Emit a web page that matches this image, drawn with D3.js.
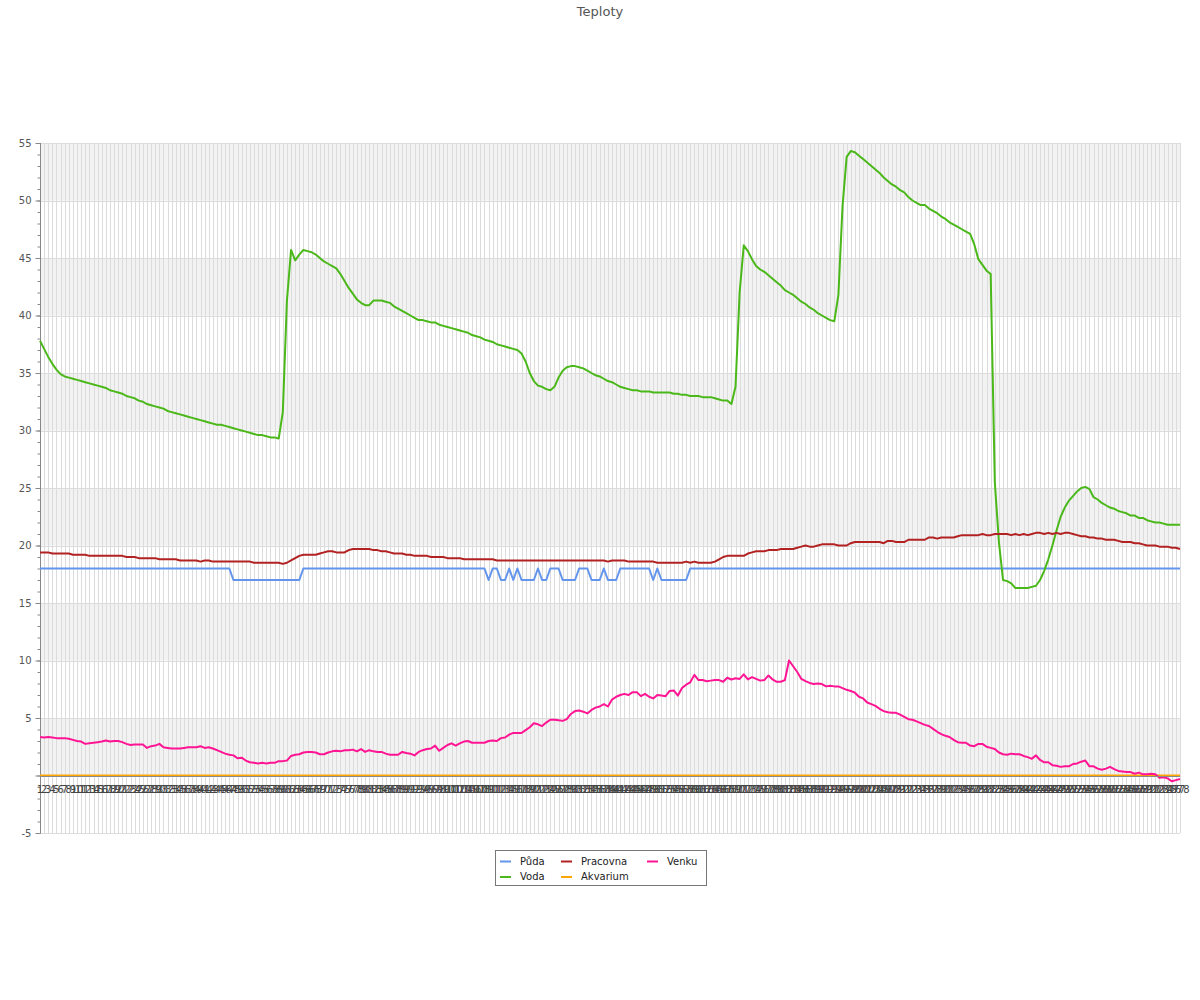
<!DOCTYPE html>
<html><head><meta charset="utf-8">
<script src="https://cdn.jsdelivr.net/npm/d3@7"></script>
<style>body{margin:0;background:#fff}svg{display:block;font-family:"DejaVu Sans",sans-serif}</style>
</head><body><svg id="c" width="1200" height="1000"></svg>
<script>
const title = "Teploty";
const categories = [
1,2,3,4,5,6,7,8,9,10,11,12,13,14,15,16,17,18,19,20,
21,22,23,24,25,26,27,28,29,30,31,32,33,34,35,36,37,38,39,40,
41,42,43,44,45,46,47,48,49,50,51,52,53,54,55,56,57,58,59,60,
61,62,63,64,65,66,67,68,69,70,71,72,73,74,75,76,77,78,79,80,
81,82,83,84,85,86,87,88,89,90,91,92,93,94,95,96,97,98,99,100,
101,102,103,104,105,106,107,108,109,110,111,112,113,114,115,116,117,118,119,120,
121,122,123,124,125,126,127,128,129,130,131,132,133,134,135,136,137,138,139,140,
141,142,143,144,145,146,147,148,149,150,151,152,153,154,155,156,157,158,159,160,
161,162,163,164,165,166,167,168,169,170,171,172,173,174,175,176,177,178,179,180,
181,182,183,184,185,186,187,188,189,190,191,192,193,194,195,196,197,198,199,200,
201,202,203,204,205,206,207,208,209,210,211,212,213,214,215,216,217,218,219,220,
221,222,223,224,225,226,227,228,229,230,231,232,233,234,235,236,237,238,239,240,
241,242,243,244,245,246,247,248,249,250,251,252,253,254,255,256,257,258,259,260,
261,262,263,264,265,266,267,268,269,270,271,272,273,274,275,276,277,278];

const seriesNames = ["Půda","Voda","Pracovna","Akvarium","Venku"];
const seriesColors = ["#6495ed","#4bb81a","#b22222","#ffa500","#ff1493"];

const puda = [
18,18,18,18,18,18,18,18,18,18, 18,18,18,18,18,18,18,18,18,18,
18,18,18,18,18,18,18,18,18,18, 18,18,18,18,18,18,18,18,18,18,
18,18,18,18,18,18,18,17,17,17, 17,17,17,17,17,17,17,17,17,17,
17,17,17,17,18,18,18,18,18,18, 18,18,18,18,18,18,18,18,18,18,
18,18,18,18,18,18,18,18,18,18, 18,18,18,18,18,18,18,18,18,18,
18,18,18,18,18,18,18,18,18,17, 18,18,17,17,18,17,18,17,17,17,
17,18,17,17,18,18,18,17,17,17, 17,18,18,18,17,17,17,18,17,17,
17,18,18,18,18,18,18,18,18,17, 18,17,17,17,17,17,17,17,18,18,
18,18,18,18,18,18,18,18,18,18, 18,18,18,18,18,18,18,18,18,18,
18,18,18,18,18,18,18,18,18,18, 18,18,18,18,18,18,18,18,18,18,
18,18,18,18,18,18,18,18,18,18, 18,18,18,18,18,18,18,18,18,18,
18,18,18,18,18,18,18,18,18,18, 18,18,18,18,18,18,18,18,18,18,
18,18,18,18,18,18,18,18,18,18, 18,18,18,18,18,18,18,18,18,18,
18,18,18,18,18,18,18,18,18,18, 18,18,18,18,18,18,18,18];

const voda = [
37.8,37.1,36.4,35.8,35.3,34.9,34.7,34.6,34.5,34.4,
34.3,34.2,34.1,34.0,33.9,33.8,33.7,33.5,33.4,33.3,
33.2,33.0,32.9,32.8,32.6,32.5,32.3,32.2,32.1,32.0,
31.9,31.7,31.6,31.5,31.4,31.3,31.2,31.1,31.0,30.9,
30.8,30.7,30.6,30.5,30.5,30.4,30.3,30.2,30.1,30.0,
29.9,29.8,29.7,29.6,29.6,29.5,29.4,29.4,29.3,31.6,
41.3,45.7,44.8,45.3,45.7,45.6,45.5,45.3,45.0,44.7,
44.5,44.3,44.1,43.6,43.0,42.4,41.9,41.4,41.1,40.9,
40.9,41.3,41.3,41.3,41.2,41.1,40.8,40.6,40.4,40.2,
40.0,39.8,39.6,39.6,39.5,39.4,39.4,39.2,39.1,39.0,
38.9,38.8,38.7,38.6,38.5,38.3,38.2,38.1,37.9,37.8,
37.7,37.5,37.4,37.3,37.2,37.1,37.0,36.7,36.0,35.0,
34.3,33.9,33.8,33.6,33.5,33.8,34.6,35.2,35.5,35.6,
35.6,35.5,35.4,35.2,35.0,34.8,34.7,34.5,34.3,34.2,
34.0,33.8,33.7,33.6,33.5,33.5,33.4,33.4,33.4,33.3,
33.3,33.3,33.3,33.3,33.2,33.2,33.1,33.1,33.0,33.0,
33.0,32.9,32.9,32.9,32.8,32.7,32.6,32.6,32.3,33.8,
42.0,46.1,45.6,44.9,44.3,44.0,43.8,43.5,43.2,42.9,
42.6,42.2,42.0,41.8,41.5,41.2,41.0,40.7,40.5,40.2,
40.0,39.8,39.6,39.5,41.8,49.5,53.8,54.3,54.2,53.9,
53.6,53.3,53.0,52.7,52.4,52.0,51.7,51.4,51.2,50.9,
50.7,50.3,50.0,49.8,49.6,49.6,49.3,49.1,48.9,48.6,
48.4,48.1,47.9,47.7,47.5,47.3,47.1,46.2,44.9,44.4,
43.9,43.6,25.5,20.3,17.0,16.9,16.7,16.3,16.3,16.3,
16.3,16.4,16.5,17.0,17.8,18.8,20.0,21.3,22.5,23.3,
23.9,24.3,24.7,25.0,25.1,24.9,24.2,24.0,23.7,23.5,
23.3,23.2,23.0,22.9,22.8,22.6,22.6,22.4,22.4,22.2,
22.1,22.0,22.0,21.9,21.8,21.8,21.8,21.8];

const pracovna = [
19.4,19.4,19.4,19.3,19.3,19.3,19.3,19.3,19.2,19.2,
19.2,19.2,19.1,19.1,19.1,19.1,19.1,19.1,19.1,19.1,
19.1,19.0,19.0,19.0,18.9,18.9,18.9,18.9,18.9,18.8,
18.8,18.8,18.8,18.8,18.7,18.7,18.7,18.7,18.7,18.6,
18.7,18.7,18.6,18.6,18.6,18.6,18.6,18.6,18.6,18.6,
18.6,18.6,18.5,18.5,18.5,18.5,18.5,18.5,18.5,18.4,
18.5,18.7,18.9,19.1,19.2,19.2,19.2,19.2,19.3,19.4,
19.5,19.5,19.4,19.4,19.4,19.6,19.7,19.7,19.7,19.7,
19.7,19.6,19.6,19.5,19.5,19.4,19.3,19.3,19.3,19.2,
19.2,19.1,19.1,19.1,19.1,19.0,19.0,19.0,19.0,18.9,
18.9,18.9,18.9,18.8,18.8,18.8,18.8,18.8,18.8,18.8,
18.8,18.7,18.7,18.7,18.7,18.7,18.7,18.7,18.7,18.7,
18.7,18.7,18.7,18.7,18.7,18.7,18.7,18.7,18.7,18.7,
18.7,18.7,18.7,18.7,18.7,18.7,18.7,18.7,18.6,18.7,
18.7,18.7,18.7,18.6,18.6,18.6,18.6,18.6,18.6,18.6,
18.5,18.5,18.5,18.5,18.5,18.5,18.5,18.6,18.5,18.6,
18.5,18.5,18.5,18.5,18.6,18.8,19.0,19.1,19.1,19.1,
19.1,19.1,19.3,19.4,19.5,19.5,19.5,19.6,19.6,19.6,
19.7,19.7,19.7,19.7,19.8,19.9,20.0,19.9,19.9,20.0,
20.1,20.1,20.1,20.1,20.0,20.0,20.0,20.2,20.3,20.3,
20.3,20.3,20.3,20.3,20.3,20.2,20.4,20.4,20.3,20.3,
20.3,20.5,20.5,20.5,20.5,20.5,20.7,20.7,20.6,20.7,
20.7,20.7,20.7,20.8,20.9,20.9,20.9,20.9,20.9,21.0,
20.9,20.9,21.0,21.0,21.0,21.0,20.9,21.0,20.9,21.0,
20.9,21.0,21.1,21.1,21.0,21.1,21.0,21.1,21.0,21.1,
21.1,21.0,20.9,20.8,20.8,20.7,20.7,20.6,20.6,20.5,
20.5,20.5,20.4,20.3,20.3,20.3,20.2,20.2,20.1,20.0,
20.0,20.0,19.9,19.9,19.9,19.8,19.8,19.7];

const akvarium = [
0,0,0,0,0,0,0,0,0,0, 0,0,0,0,0,0,0,0,0,0, 0,0,0,0,0,0,0,0,0,0,
0,0,0,0,0,0,0,0,0,0, 0,0,0,0,0,0,0,0,0,0, 0,0,0,0,0,0,0,0,0,0,
0,0,0,0,0,0,0,0,0,0, 0,0,0,0,0,0,0,0,0,0, 0,0,0,0,0,0,0,0,0,0,
0,0,0,0,0,0,0,0,0,0, 0,0,0,0,0,0,0,0,0,0, 0,0,0,0,0,0,0,0,0,0,
0,0,0,0,0,0,0,0,0,0, 0,0,0,0,0,0,0,0,0,0, 0,0,0,0,0,0,0,0,0,0,
0,0,0,0,0,0,0,0,0,0, 0,0,0,0,0,0,0,0,0,0, 0,0,0,0,0,0,0,0,0,0,
0,0,0,0,0,0,0,0,0,0, 0,0,0,0,0,0,0,0,0,0, 0,0,0,0,0,0,0,0,0,0,
0,0,0,0,0,0,0,0,0,0, 0,0,0,0,0,0,0,0,0,0, 0,0,0,0,0,0,0,0,0,0,
0,0,0,0,0,0,0,0,0,0, 0,0,0,0,0,0,0,0,0,0, 0,0,0,0,0,0,0,0,0,0,
0,0,0,0,0,0,0,0];

const venku = [
3.35,3.3,3.35,3.3,3.25,3.25,3.25,3.2,3.1,3.0,
2.95,2.75,2.8,2.85,2.9,2.95,3.05,2.95,3.0,3.0,
2.9,2.75,2.65,2.7,2.7,2.7,2.4,2.55,2.6,2.75,
2.45,2.4,2.35,2.35,2.35,2.4,2.45,2.45,2.45,2.55,
2.4,2.45,2.35,2.2,2.05,1.9,1.8,1.75,1.5,1.55,
1.3,1.15,1.1,1.05,1.1,1.05,1.1,1.1,1.25,1.25,
1.3,1.7,1.8,1.85,2.0,2.05,2.05,2.0,1.85,1.85,
2.0,2.1,2.15,2.1,2.2,2.2,2.25,2.1,2.3,2.05,
2.2,2.1,2.05,2.05,1.9,1.8,1.8,1.8,2.05,1.95,
1.9,1.75,2.05,2.2,2.3,2.35,2.6,2.15,2.4,2.65,
2.8,2.6,2.8,2.95,3.0,2.85,2.85,2.85,2.85,3.0,
3.05,3.0,3.25,3.3,3.55,3.7,3.7,3.7,3.95,4.2,
4.55,4.45,4.3,4.6,4.85,4.85,4.8,4.75,4.9,5.35,
5.6,5.65,5.55,5.4,5.7,5.9,6.0,6.2,6.0,6.6,
6.85,7.0,7.1,7.0,7.25,7.25,6.9,7.1,6.85,6.7,
7.0,6.95,6.9,7.35,7.4,6.95,7.6,7.9,8.1,8.75,
8.3,8.3,8.2,8.25,8.3,8.3,8.15,8.5,8.35,8.45,
8.4,8.8,8.35,8.55,8.4,8.25,8.3,8.7,8.35,8.15,
8.15,8.3,10.0,9.5,9.0,8.4,8.2,8.05,7.95,8.0,
7.95,7.75,7.8,7.75,7.75,7.6,7.45,7.35,7.2,6.85,
6.7,6.35,6.2,6.05,5.8,5.6,5.5,5.45,5.45,5.3,
5.1,4.9,4.85,4.7,4.55,4.4,4.3,4.05,3.8,3.6,
3.45,3.35,3.1,2.9,2.85,2.85,2.6,2.55,2.75,2.75,
2.5,2.4,2.3,2.0,1.85,1.8,1.9,1.85,1.85,1.7,
1.6,1.45,1.75,1.35,1.15,1.15,0.9,0.85,0.75,0.8,
0.8,1.0,1.05,1.2,1.3,0.8,0.8,0.6,0.5,0.6,
0.75,0.55,0.4,0.35,0.3,0.3,0.15,0.25,0.1,0.1,
0.15,0.1,-0.2,-0.15,-0.25,-0.5,-0.4,-0.3];

const yTickValues = [-5,0,5,10,15,20,25,30,35,40,45,50,55];
const yTickLabels = ["-5","","5","10","15","20","25","30","35","40","45","50","55"];
const yMinorTicks = d3.range(-5, 56, 1);
const bandLows = [0,10,20,30,40,50];

const seriesData = [puda, voda, pracovna, akvarium, venku];

const svg = d3.select("#c");
const L = 40, R = 1180, T = 143, B = 833;
const x = d3.scalePoint().domain(categories).range([L, R]);
const y = d3.scaleLinear().domain([-5, 55]).range([B, T]);
const px = v => Math.round(v) + 0.5;

// title
svg.append("text").attr("x", 600).attr("y", 15.5).attr("text-anchor", "middle")
  .attr("font-size", 13).attr("fill", "#555").text(title);

// bands
svg.append("g").selectAll("rect").data(bandLows).join("rect")
  .attr("x", L).attr("width", R - L)
  .attr("y", d => y(d + 5)).attr("height", d => y(d) - y(d + 5))
  .attr("fill", "#f2f2f2");

// vertical grid
svg.append("g").selectAll("line").data(categories).join("line")
  .attr("x1", d => px(x(d))).attr("x2", d => px(x(d)))
  .attr("y1", T).attr("y2", B).attr("stroke", "#dcdcdc").attr("stroke-width", 1);

// horizontal grid
svg.append("g").selectAll("line").data(yTickValues).join("line")
  .attr("x1", L).attr("x2", R)
  .attr("y1", d => px(y(d))).attr("y2", d => px(y(d)))
  .attr("stroke", "#dcdcdc");

// y axis minor
const gMin = svg.append("g").attr("transform", `translate(${L + 0.5},0)`)
  .call(d3.axisLeft(y).tickValues(yMinorTicks).tickSize(3).tickFormat(""));
gMin.select(".domain").remove();
gMin.selectAll("line").attr("stroke", "#888");
// y axis major
const gMaj = svg.append("g").attr("transform", `translate(${L + 0.5},0)`)
  .call(d3.axisLeft(y).tickValues(yTickValues).tickSize(5).tickPadding(4)
    .tickFormat((d, i) => yTickLabels[i]));
gMaj.select(".domain").attr("stroke", "#888").attr("d", `M0,${T}V${B}`);
gMaj.selectAll("line").attr("stroke", "#888");
gMaj.selectAll("text").attr("font-size", 10).attr("fill", "#555")
  .attr("font-family", '"DejaVu Sans",sans-serif');

// x labels
svg.append("g").selectAll("text").data(categories).join("text")
  .attr("x", d => x(d)).attr("y", 792.5).attr("text-anchor", "middle")
  .attr("font-size", 10).attr("fill", "#444").text(d => d);

// series lines
const line = d3.line().x((d, i) => x(categories[i])).y(d => y(d));
svg.append("g").selectAll("path").data(seriesData).join("path")
  .attr("d", d => line(d)).attr("fill", "none")
  .attr("stroke", (d, i) => seriesColors[i]).attr("stroke-width", 2)
  .attr("stroke-linejoin", "round");

// zero line (drawn over the series, just below the 0 value)
svg.append("line").attr("x1", L).attr("x2", R)
  .attr("y1", px(y(0)) + 1).attr("y2", px(y(0)) + 1)
  .attr("stroke", "#8a8a8a").attr("stroke-width", 1);

// legend
const lg = svg.append("g");
lg.append("rect").attr("x", 495.5).attr("y", 850.5).attr("width", 211).attr("height", 35)
  .attr("fill", "#fff").attr("stroke", "#777");
const legendPos = [[500, 861.5], [500, 877], [561, 861.5], [561, 877], [647, 861.5]];
seriesNames.forEach((n, i) => {
  const [lx, ly] = legendPos[i];
  lg.append("line").attr("x1", lx).attr("x2", lx + 11).attr("y1", ly).attr("y2", ly)
    .attr("stroke", seriesColors[i]).attr("stroke-width", 2);
  lg.append("text").attr("x", lx + 20).attr("y", ly + 3).attr("font-size", 10)
    .attr("fill", "#222").text(n);
});
</script></body></html>
